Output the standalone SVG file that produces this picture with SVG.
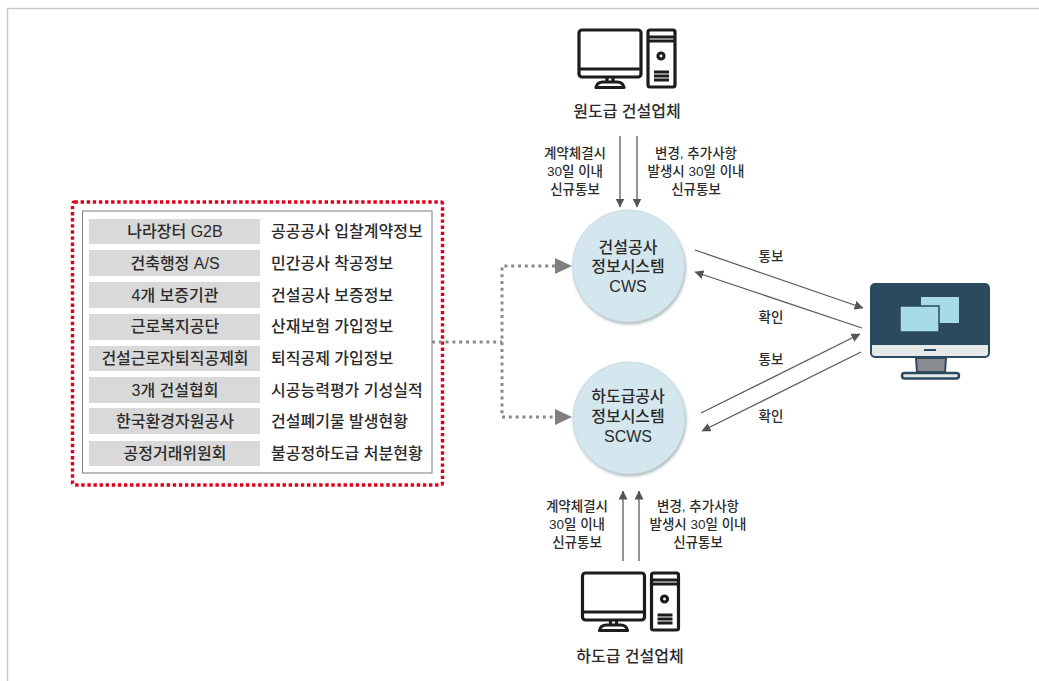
<svg xmlns="http://www.w3.org/2000/svg" xmlns:xlink="http://www.w3.org/1999/xlink" width="1039" height="681" viewBox="0 0 1039 681">
<style>
text{font-family:"Liberation Sans","Noto Sans CJK KR",sans-serif;fill:#2b2b2b;text-anchor:middle;font-weight:500}
.t{font-size:16px}
.l{text-anchor:start}
.s{font-size:13.5px}
.row{fill:#d9d9d9}
.ln{stroke:#5c5c5c;stroke-width:1.3;fill:none}
.dot{stroke:#8a8a8a;stroke-width:3;fill:none;stroke-dasharray:3 3.800}
.circ{fill:#d5e7ee;stroke:#c8dae1;stroke-width:1}
.pc{fill:none;stroke:#1c1c1c;stroke-width:3.200;stroke-linejoin:round}
</style>
<defs>
<marker id="a" markerUnits="userSpaceOnUse" markerWidth="9" markerHeight="9" refX="8.500" refY="4.500" orient="auto"><path d="M0 0L9 4.500L0 9z" fill="#555"/></marker>
<filter id="sh" x="-20%" y="-20%" width="140%" height="140%"><feDropShadow dx="1" dy="2" stdDeviation="1.500" flood-color="#8a9a9f" flood-opacity=".7"/></filter>
<g id="pc">
<rect class="pc" x="579" y="30" width="62" height="47" rx="3"/>
<path class="pc" d="M579 69H641M607 77V82M613 77V82M596 87.500Q597 82 603 82H617Q623 82 624 87.500Z"/>
<rect class="pc" x="648" y="30" width="27" height="57" rx="2"/>
<path class="pc" d="M648 37H675M648 41H675M654 72H669M654 76H669M654 80H669"/>
<circle class="pc" cx="661" cy="56" r="3"/>
</g>
</defs>
<rect width="1039" height="681" fill="#fff"/>
<path d="M7.500 681V8.500H1039" fill="none" stroke="#c8c8c8" stroke-width="1.500"/>

<g id="source-list">
<rect x="72.500" y="202" width="370" height="283" rx="2" fill="none" stroke="#e0001b" stroke-width="3.400" stroke-dasharray="3.400 2.700"/>
<rect x="82.500" y="211" width="349.500" height="262" fill="#fff" stroke="#7c7c84" stroke-width="1"/>
<rect class="row" x="89" y="219" width="171" height="25"/>
<rect class="row" x="89" y="250" width="171" height="26"/>
<rect class="row" x="89" y="282" width="171" height="26"/>
<rect class="row" x="89" y="314" width="171" height="26"/>
<rect class="row" x="89" y="346" width="171" height="25"/>
<rect class="row" x="89" y="377" width="171" height="26"/>
<rect class="row" x="89" y="408" width="171" height="26"/>
<rect class="row" x="89" y="441" width="171" height="25"/>
<text class="t" x="175" y="237">나라장터 G2B</text><text class="t l" x="271" y="237">공공공사 입찰계약정보</text>
<text class="t" x="175" y="269">건축행정 A/S</text><text class="t l" x="271" y="269">민간공사 착공정보</text>
<text class="t" x="175" y="301">4개 보증기관</text><text class="t l" x="271" y="301">건설공사 보증정보</text>
<text class="t" x="175" y="332">근로복지공단</text><text class="t l" x="271" y="332">산재보험 가입정보</text>
<text class="t" x="175" y="364">건설근로자퇴직공제회</text><text class="t l" x="271" y="364">퇴직공제 가입정보</text>
<text class="t" x="175" y="396">3개 건설협회</text><text class="t l" x="271" y="396">시공능력평가 기성실적</text>
<text class="t" x="175" y="427">한국환경자원공사</text><text class="t l" x="271" y="427">건설폐기물 발생현황</text>
<text class="t" x="175" y="459">공정거래위원회</text><text class="t l" x="271" y="459">불공정하도급 처분현황</text>
</g>

<g id="connectors">
<path class="dot" d="M432 342H502"/>
<path class="dot" d="M555 266H502V417H555"/>
<path d="M555 258L572 266L555 274zM555 409L572 417L555 425z" fill="#7f7f7f"/>
<path class="ln" marker-end="url(#a)" d="M620 136V207"/>
<path class="ln" marker-end="url(#a)" d="M637 136V207"/>
<path class="ln" marker-end="url(#a)" d="M623 561V491"/>
<path class="ln" marker-end="url(#a)" d="M639 561V491"/>
<path class="ln" marker-end="url(#a)" d="M695 250L863 308"/>
<path class="ln" marker-end="url(#a)" d="M862 328L695 272"/>
<path class="ln" marker-end="url(#a)" d="M701 413L860 334"/>
<path class="ln" marker-end="url(#a)" d="M861 352L702 431"/>
</g>

<g id="cws">
<circle class="circ" cx="628.500" cy="266" r="56" filter="url(#sh)"/>
<text class="t" x="628" y="253">건설공사<tspan x="628" y="272">정보시스템</tspan><tspan x="628" y="292">CWS</tspan></text>
</g>
<g id="scws">
<circle class="circ" cx="629" cy="418" r="56" filter="url(#sh)"/>
<text class="t" x="628" y="402">하도급공사<tspan x="628" y="422">정보시스템</tspan><tspan x="628" y="442">SCWS</tspan></text>
</g>

<g id="prime-contractor">
<use xlink:href="#pc" href="#pc"/>
<text class="t" x="627" y="117">원도급 건설업체</text>
</g>
<g id="sub-contractor">
<use xlink:href="#pc" href="#pc" x="3.500" y="543"/>
<text class="t" x="630" y="662">하도급 건설업체</text>
</g>

<g id="labels">
<text class="s" x="575" y="158">계약체결시<tspan x="575" y="176">30일 이내</tspan><tspan x="575" y="194">신규통보</tspan></text>
<text class="s" x="696" y="158">변경, 추가사항<tspan x="696" y="176">발생시 30일 이내</tspan><tspan x="696" y="194">신규통보</tspan></text>
<text class="s" x="577" y="511">계약체결시<tspan x="577" y="529">30일 이내</tspan><tspan x="577" y="547">신규통보</tspan></text>
<text class="s" x="698" y="511">변경, 추가사항<tspan x="698" y="529">발생시 30일 이내</tspan><tspan x="698" y="547">신규통보</tspan></text>
<text class="s" x="771" y="261">통보</text><text class="s" x="771" y="322">확인</text><text class="s" x="771" y="364">통보</text><text class="s" x="771" y="421">확인</text>
</g>

<g id="monitor">
<path d="M916 358L917 372H945L946 358z" fill="#8a8d92" stroke="#2c4a5e" stroke-width="2"/>
<rect x="902" y="373" width="57" height="5.500" rx="2.700" fill="#e6e9ea" stroke="#2c4a5e" stroke-width="2.500"/>
<rect x="871" y="284" width="118" height="73" rx="4" fill="#2c4a5e" stroke="#2c4a5e" stroke-width="2"/>
<path d="M872 345H988V353Q988 356 985 356H875Q872 356 872 353z" fill="#e6e9ea"/>
<rect x="924" y="349" width="12" height="2" fill="#2c4a5e"/>
<rect x="921" y="297" width="38" height="26" fill="#a8dbe8"/>
<rect x="900" y="306" width="39" height="26" fill="#a8dbe8" stroke="#2c4a5e" stroke-width="1.500"/>
</g>
</svg>
